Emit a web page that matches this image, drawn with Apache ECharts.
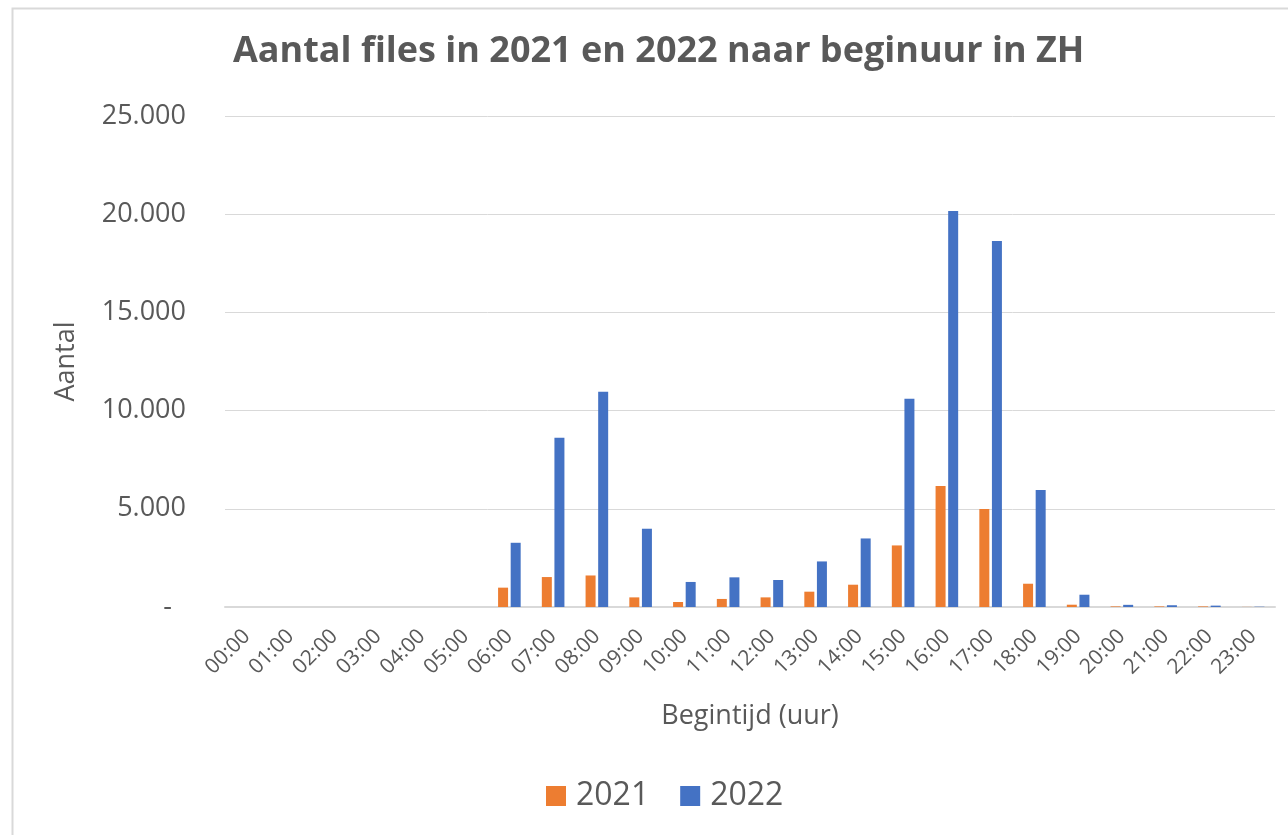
<!DOCTYPE html>
<html>
<head>
<meta charset="utf-8">
<script src="https://cdn.jsdelivr.net/npm/echarts@6/dist/echarts.min.js"></script>
<style>
  html, body { margin: 0; padding: 0; background: #fff; }
  #chart { width: 1288px; height: 835px; }
</style>
</head>
<body>
<div id="chart"></div>
<script>
// begintijd (uur)
var hours = ['00:00', '01:00', '02:00', '03:00', '04:00', '05:00', '06:00', '07:00', '08:00', '09:00', '10:00', '11:00',
  '12:00', '13:00', '14:00', '15:00', '16:00', '17:00', '18:00', '19:00', '20:00', '21:00', '22:00', '23:00']
// aantal files per jaar
var files2021 = [0, 0, 0, 0, 0, 0, 985, 1525, 1605, 490, 255, 410, 490, 780, 1135, 3135, 6160, 4990, 1185, 117, 30, 30, 30, 5]
var files2022 = [0, 0, 0, 0, 0, 0, 3270, 8615, 10955, 3985, 1275, 1510, 1375, 2320, 3490, 10600, 20165, 18640, 5955, 625, 110, 90, 70, 15]
var yTicks = [0, 5000, 10000, 15000, 20000, 25000]

var textColor = '#595959'
var font = 'Open Sans'

function fmt(v) {
  if (v === 0) {
    return '-  '
  }
  return String(v).replace(/\B(?=(\d{3})+(?!\d))/g, '.')
}

var chart = echarts.init(document.getElementById('chart'))
chart.setOption({
  animation: false,
  backgroundColor: '#fff',
  graphic: [{
    type: 'rect',
    left: 10,
    top: 6,
    shape: { width: 1300, height: 900 },
    style: { fill: 'none', stroke: '#d9d9d9', lineWidth: 2 },
    silent: true
  }],
  title: {
    text: 'Aantal files in 2021 en 2022 naar beginuur in ZH',
    left: 228,
    top: 29,
    textStyle: {
      color: textColor,
      fontFamily: font,
      fontWeight: 'bold',
      fontSize: 36
    }
  },
  legend: {
    data: ['2021', '2022'],
    left: 541,
    top: 775,
    itemWidth: 20,
    itemHeight: 20,
    itemGap: 31,
    icon: 'rect',
    textStyle: {
      color: textColor,
      fontFamily: font,
      fontSize: 32,
      padding: [0, 0, 0, 5]
    }
  },
  grid: {
    left: 225,
    right: 13,
    top: 116,
    bottom: 228
  },
  xAxis: {
    type: 'category',
    data: hours,
    name: 'Begintijd (uur)',
    nameLocation: 'middle',
    nameGap: 96,
    nameTextStyle: { color: textColor, fontFamily: font, fontSize: 27 },
    axisLine: { lineStyle: { color: '#d9d9d9', width: 2 } },
    axisTick: { show: false },
    axisLabel: {
      rotate: 45,
      margin: 26,
      color: textColor,
      fontFamily: font,
      fontSize: 21
    }
  },
  yAxis: {
    type: 'value',
    min: yTicks[0],
    max: yTicks[yTicks.length - 1],
    interval: yTicks[1] - yTicks[0],
    name: 'Aantal',
    nameLocation: 'middle',
    nameGap: 145,
    nameRotate: 90,
    nameTextStyle: { color: textColor, fontFamily: font, fontSize: 27 },
    axisLine: { show: false },
    axisTick: { show: false },
    splitLine: { lineStyle: { color: '#d9d9d9', width: 1 } },
    axisLabel: {
      margin: 39,
      color: textColor,
      fontFamily: font,
      fontSize: 27,
      formatter: fmt
    }
  },
  series: [
    {
      name: '2021',
      type: 'bar',
      barWidth: 10,
      barGap: '26%',
      itemStyle: { color: '#ED7D31' },
      data: files2021
    },
    {
      name: '2022',
      type: 'bar',
      barWidth: 10,
      barGap: '26%',
      itemStyle: { color: '#4472C4' },
      data: files2022
    }
  ]
})
</script>
</body>
</html>
